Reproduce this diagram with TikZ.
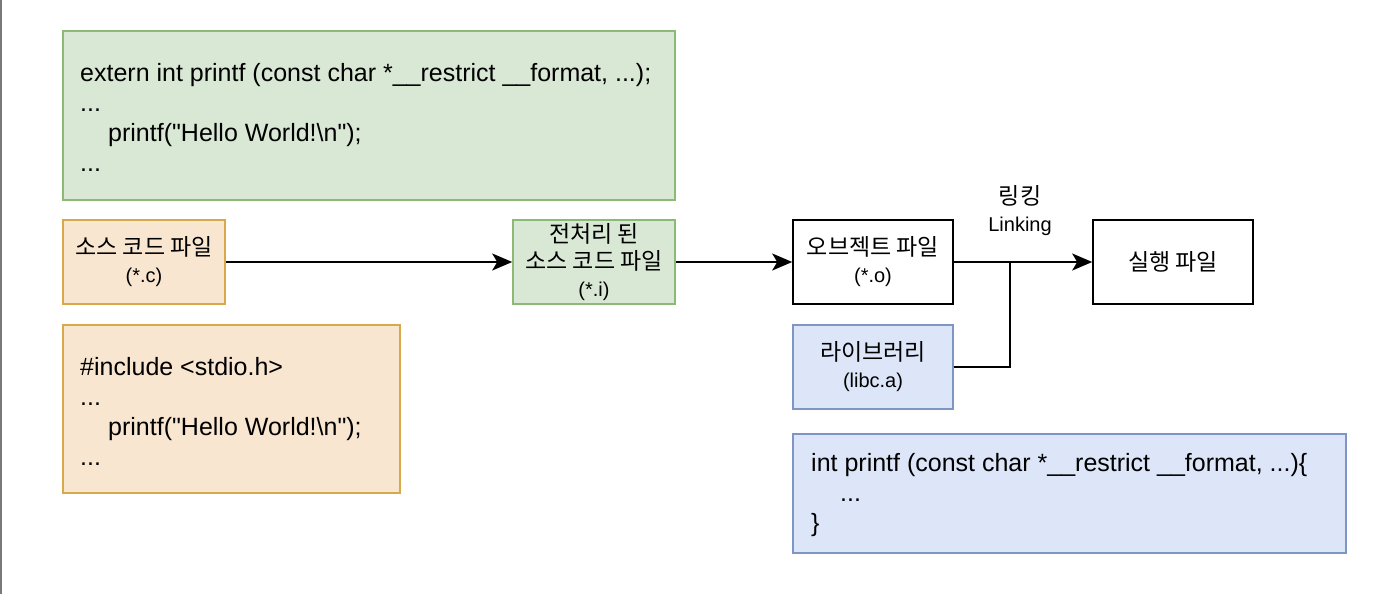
\documentclass[tikz,border=0pt]{standalone}
\usepackage{fontspec}
\setmainfont{Liberation Sans}
\newfontfamily\kr{Noto Sans CJK KR}
\newfontfamily\qf{Liberation Sans}[Ligatures=ResetAll]
\usetikzlibrary{arrows.meta}
\definecolor{gfill}{HTML}{D9E7D5}
\definecolor{gline}{HTML}{8DB977}
\definecolor{ofill}{HTML}{F8E6D0}
\definecolor{oline}{HTML}{D7A94B}
\definecolor{bfill}{HTML}{DCE6F8}
\definecolor{bline}{HTML}{7F95C4}
\definecolor{edgegray}{HTML}{7A7A7A}
\newcommand{\krt}[1]{{\kr\fontsize{23}{27}\selectfont #1}}
\newcommand{\dq}{{\qf\char34}}
\tikzset{
  box/.style={draw, line width=1.6pt, minimum width=#1, inner sep=0pt},
  greenbox/.style={fill=gfill, draw=gline},
  orangebox/.style={fill=ofill, draw=oline},
  bluebox/.style={fill=bfill, draw=bline},
  plainbox/.style={fill=white, draw=black},
  lbl/.style={align=center, font=\fontsize{20}{27}\selectfont, inner sep=0pt},
  code/.style={align=left, font=\fontsize{25}{30}\selectfont, inner sep=0pt, anchor=west},
  conn/.style={line width=1.8pt, draw=black},
  arr/.style={conn, -{Stealth[length=20pt, width=17pt, inset=5pt]}}
}
\begin{document}
\begin{tikzpicture}[x=1pt, y=-1pt]
\useasboundingbox (0,0) rectangle (1389,594);
\fill[white] (0,0) rectangle (1389,594);
\fill[edgegray] (0,0) rectangle (2,594);

% code boxes
\node[box=612pt, minimum height=169pt, greenbox] (gcode) at (369,115.5) {};
\node[code] (gtext) at (80,117.5) {extern int printf (const char *\_\_restrict \_\_format, ...);\\...\\\hspace*{28pt}printf(\dq Hello World!\textbackslash n\dq);\\...};

\node[box=337pt, minimum height=168pt, orangebox] (icode) at (231.5,409) {};
\node[code] (itext) at (80,411) {\#include <stdio.h>\\...\\\hspace*{28pt}printf(\dq Hello World!\textbackslash n\dq);\\...};

\node[box=553pt, minimum height=119pt, bluebox] (lcode) at (1069.5,493.5) {};
\node[code] (ltext) at (811,495.5) {int printf (const char *\_\_restrict \_\_format, ...)\{\\\hspace*{29pt}...\\\}};

% flow boxes
\node[box=162pt, minimum height=84pt, orangebox, lbl] (src) at (144,262) {\krt{소스 코드 파일}\\(*.c)};
\node[box=162pt, minimum height=84pt, greenbox, lbl] (pre) at (594,262) {\krt{전처리 된}\\\krt{소스 코드 파일}\\(*.i)};
\node[box=160pt, minimum height=84pt, plainbox, lbl] (obj) at (873,262) {\krt{오브젝트 파일}\\(*.o)};
\node[box=160pt, minimum height=84pt, bluebox, lbl] (lib) at (873,367) {\krt{라이브러리}\\(libc.a)};
\node[box=160pt, minimum height=84pt, plainbox, lbl] (exe) at (1173,262) {\krt{실행 파일}};

\node[lbl] (linklbl) at (1020,211) {\krt{링킹}\\Linking};

% connectors
\coordinate (join) at (1010,262);
\draw[arr] (src) -- (pre);
\draw[arr] (pre) -- (obj);
\draw[arr] (obj) -- (exe);
\draw[conn] (lib.east) -| (join);
\end{tikzpicture}
\end{document}
